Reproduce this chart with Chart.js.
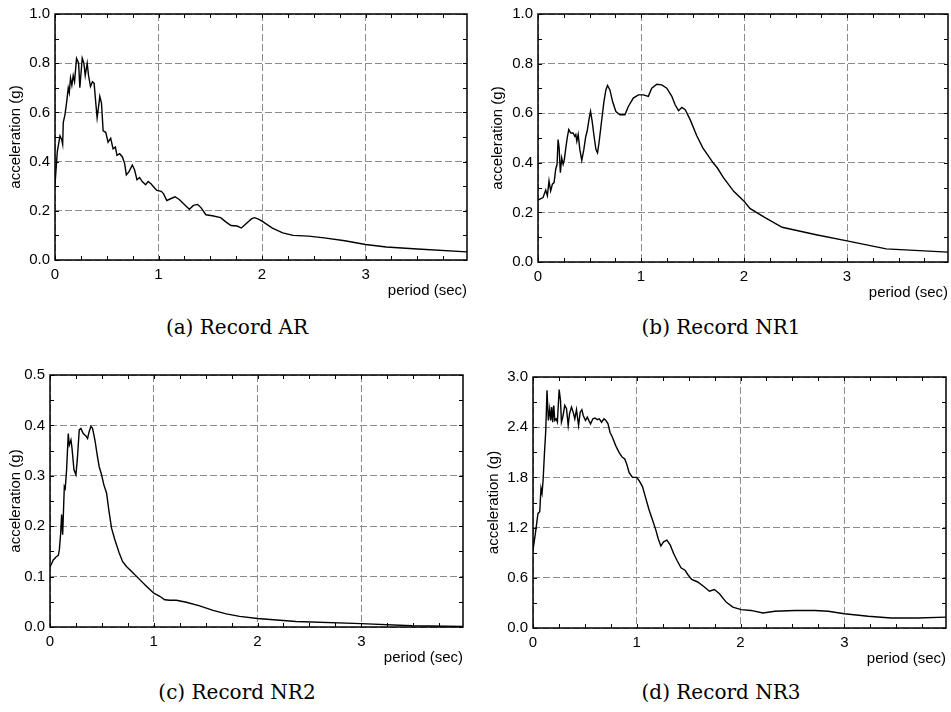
<!DOCTYPE html>
<html><head><meta charset="utf-8">
<script src="https://cdn.jsdelivr.net/npm/chart.js@4.4.0/dist/chart.umd.min.js"></script>
<style>
html,body{margin:0;padding:0;background:#fff;width:951px;height:712px;overflow:hidden;}
canvas{position:absolute;}
.cap{position:absolute;width:300px;text-align:center;font-family:"DejaVu Serif",serif;font-size:20px;line-height:24px;color:#000;}
</style></head><body>
<canvas id="cA" width="475" height="305" style="left:0;top:0"></canvas>
<canvas id="cB" width="476" height="307" style="left:475px;top:0"></canvas>
<canvas id="cC" width="475" height="312" style="left:0;top:360px"></canvas>
<canvas id="cD" width="476" height="313" style="left:475px;top:360px"></canvas>
<div class="cap" style="left:87px;top:315px">(a) Record AR</div>
<div class="cap" style="left:571px;top:315px">(b) Record NR1</div>
<div class="cap" style="left:87px;top:680px">(c) Record NR2</div>
<div class="cap" style="left:571px;top:680px">(d) Record NR3</div>
<script>
// ---- data ----
const xTicks = [0, 1, 2, 3];
const periodMax = 3.98;

const periodsA = [0,.022,.048,.064,.074,.08,.096,.112,.128,.138,.15,.163,.176,.189,.208,.228,.24,.263,.279,.292,.311,.324,.343,.362,.378,.394,.407,.417,.433,.449,.465,.49,.513,.538,.561,.583,.599,.625,.651,.673,.689,.715,.747,.769,.792,.817,.843,.875,.90,.929,.962,.984,1.026,1.048,1.08,1.122,1.16,1.20,1.25,1.298,1.337,1.378,1.41,1.458,1.52,1.6,1.65,1.7,1.76,1.8,1.84,1.9,1.93,1.97,2.0,2.1,2.2,2.3,2.45,2.6,2.8,3.0,3.2,3.5,3.98];
const accelA = [.306,.44,.505,.49,.47,.56,.59,.64,.70,.68,.74,.71,.75,.725,.82,.80,.70,.82,.80,.75,.80,.75,.705,.725,.718,.638,.578,.61,.665,.638,.525,.519,.479,.495,.452,.459,.425,.432,.419,.392,.346,.359,.386,.366,.326,.335,.319,.306,.319,.309,.293,.283,.279,.27,.242,.25,.257,.246,.226,.206,.222,.226,.213,.184,.18,.172,.155,.14,.138,.13,.145,.168,.172,.165,.158,.13,.11,.10,.097,.09,.078,.063,.053,.045,.033];
const yTicksA = [0, 0.2, 0.4, 0.6, 0.8, 1.0];

const periodsB = [0,.049,.075,.091,.107,.123,.14,.156,.172,.185,.195,.205,.217,.23,.244,.256,.27,.286,.299,.318,.341,.357,.367,.377,.39,.406,.425,.445,.464,.477,.497,.51,.526,.542,.562,.578,.594,.617,.64,.659,.675,.698,.724,.756,.795,.844,.877,.925,.974,1.023,1.071,1.104,1.153,1.201,1.25,1.299,1.331,1.364,1.396,1.429,1.477,1.54,1.6,1.65,1.7,1.74,1.8,1.9,2.0,2.06,2.2,2.37,2.7,3.0,3.38,3.98];
const accelB = [.25,.26,.29,.267,.327,.287,.314,.32,.374,.394,.494,.46,.36,.42,.394,.414,.46,.507,.534,.52,.52,.507,.514,.487,.514,.454,.41,.454,.507,.527,.58,.607,.567,.514,.454,.44,.487,.567,.647,.694,.712,.694,.647,.607,.594,.594,.627,.661,.674,.674,.668,.701,.717,.714,.701,.668,.634,.61,.623,.614,.574,.51,.46,.43,.40,.38,.34,.285,.245,.215,.18,.14,.11,.085,.053,.04];
const yTicksB = [0, 0.2, 0.4, 0.6, 0.8, 1.0];

const periodsC = [0,.032,.058,.08,.09,.103,.112,.122,.128,.138,.147,.16,.176,.186,.202,.212,.231,.25,.263,.282,.298,.32,.346,.362,.378,.394,.41,.433,.455,.474,.497,.519,.545,.567,.593,.625,.667,.699,.737,.801,.865,.929,1.0,1.058,1.106,1.154,1.218,1.314,1.442,1.571,1.699,1.827,2.0,2.37,3.0,3.49,3.98];
const accelC = [.119,.133,.139,.142,.153,.186,.223,.183,.219,.279,.275,.312,.384,.361,.371,.355,.312,.302,.332,.391,.394,.384,.379,.374,.388,.398,.394,.371,.341,.318,.302,.282,.266,.232,.196,.173,.147,.13,.12,.107,.094,.081,.067,.061,.054,.053,.053,.049,.042,.033,.026,.021,.017,.011,.0066,.0026,.0013];
const yTicksC = [0, 0.1, 0.2, 0.3, 0.4, 0.5];

const periodsD = [0,.023,.048,.065,.077,.087,.097,.11,.123,.135,.148,.161,.171,.181,.19,.2,.21,.223,.235,.252,.265,.274,.287,.306,.323,.339,.352,.371,.387,.403,.419,.439,.455,.471,.484,.506,.523,.542,.555,.577,.597,.619,.639,.661,.684,.703,.723,.742,.765,.797,.829,.861,.884,.903,.926,.958,1.0,1.023,1.055,1.087,1.119,1.152,1.184,1.206,1.232,1.258,1.29,1.323,1.355,1.387,1.426,1.465,1.497,1.529,1.587,1.652,1.70,1.748,1.797,1.861,1.926,2.006,2.1,2.216,2.33,2.523,2.716,2.845,3.0,3.23,3.45,3.71,3.98];
const accelD = [.93,1.13,1.37,1.39,1.67,1.61,1.76,2.08,2.36,2.84,2.48,2.62,2.48,2.64,2.46,2.66,2.48,2.50,2.46,2.85,2.72,2.46,2.52,2.66,2.62,2.42,2.56,2.64,2.58,2.50,2.61,2.42,2.58,2.61,2.54,2.48,2.52,2.47,2.44,2.50,2.51,2.49,2.50,2.46,2.50,2.48,2.44,2.34,2.28,2.18,2.10,2.04,2.02,1.96,1.86,1.80,1.80,1.76,1.69,1.55,1.41,1.29,1.17,1.07,.98,1.03,1.05,.99,.89,.81,.72,.69,.63,.58,.55,.49,.44,.46,.41,.31,.25,.22,.21,.18,.20,.21,.21,.20,.17,.14,.12,.12,.13];
const yTicksD = [0, 0.6, 1.2, 1.8, 2.4, 3.0];

// ---- rendering ----
Chart.defaults.font.family = "'Liberation Sans', Arial, Helvetica, sans-serif";
Chart.defaults.font.size = 15;
Chart.defaults.color = '#000';

const framePlugin = {
  id: 'frame',
  afterDatasetsDraw(chart, args, o) {
    const {ctx, chartArea: a, scales: {x, y}} = chart;
    ctx.save();
    ctx.strokeStyle = '#000';
    ctx.lineWidth = 1;
    ctx.beginPath();
    const L = 4;
    const nx = Math.floor(x.max / o.xMinor + 1e-6);
    for (let i = 0; i <= nx; i++) {
      const px = Math.round(x.getPixelForValue(i * o.xMinor)) + 0.5;
      ctx.moveTo(px, a.bottom); ctx.lineTo(px, a.bottom - L);
      ctx.moveTo(px, a.top); ctx.lineTo(px, a.top + L);
    }
    const ny = Math.floor(y.max / o.yMinor + 1e-6);
    for (let i = 0; i <= ny; i++) {
      const py = Math.round(y.getPixelForValue(i * o.yMinor)) + 0.5;
      ctx.moveTo(a.left, py); ctx.lineTo(a.left + L, py);
      ctx.moveTo(a.right, py); ctx.lineTo(a.right - L, py);
    }
    ctx.stroke();
    ctx.lineWidth = 1.5;
    ctx.strokeRect(a.left, a.top, a.right - a.left, a.bottom - a.top);
    ctx.restore();
  }
};

function makeChart(id, periods, accel, yTicks, yMinor, lay) {
  const yMax = yTicks[yTicks.length - 1];
  return new Chart(document.getElementById(id), {
    type: 'line',
    data: {
      datasets: [{
        data: periods.map((p, i) => ({x: p, y: accel[i]})),
        borderColor: '#000', borderWidth: 1.4, pointRadius: 0, tension: 0, fill: false
      }]
    },
    options: {
      responsive: false, animation: false, events: [],
      layout: {padding: {left: 0, top: lay.top, right: lay.right, bottom: 0}},
      plugins: {legend: {display: false}, tooltip: {enabled: false}, frame: {xMinor: 0.25, yMinor: yMinor}},
      scales: {
        x: {
          type: 'linear', min: 0, max: periodMax,
          afterBuildTicks: s => { s.ticks = xTicks.map(v => ({value: v})); },
          afterFit: s => { s.height = 45; },
          grid: {color: '#8c8c8c', lineWidth: 1, drawTicks: false},
          border: {display: false, dash: [7, 3]},
          ticks: {padding: 6, maxRotation: 0, autoSkip: false, callback: v => String(v)},
          title: {display: true, text: 'period (sec)', align: 'end', padding: {top: 0, bottom: 5}}
        },
        y: {
          type: 'linear', min: 0, max: yMax,
          afterBuildTicks: s => { s.ticks = yTicks.map(v => ({value: v})); },
          afterFit: s => { s.width = lay.yw; },
          grid: {color: '#8c8c8c', lineWidth: 1, drawTicks: false},
          border: {display: false, dash: [7, 3]},
          ticks: {padding: 5, autoSkip: false, callback: v => v.toFixed(1)},
          title: {display: true, text: 'acceleration (g)', padding: {top: lay.tx - 9, bottom: 0}}
        }
      }
    },
    plugins: [framePlugin]
  });
}

makeChart('cA', periodsA, accelA, yTicksA, 0.1, {top: 9, right: 8, yw: 55, tx: 16});
makeChart('cB', periodsB, accelB, yTicksB, 0.1, {top: 13, right: 3, yw: 63, tx: 23});
makeChart('cC', periodsC, accelC, yTicksC, 0.05, {top: 15, right: 12, yw: 50, tx: 16});
makeChart('cD', periodsD, accelD, yTicksD, 0.3, {top: 17, right: 5, yw: 58, tx: 19});
</script>
</body></html>
